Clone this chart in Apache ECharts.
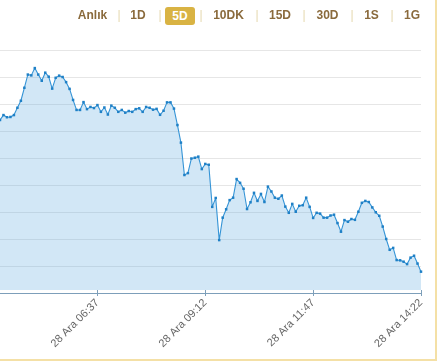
<!DOCTYPE html>
<html>
<head>
<meta charset="utf-8">
<script src="https://cdn.jsdelivr.net/npm/echarts@6/dist/echarts.min.js"></script>
<style>
  html, body { margin: 0; padding: 0; background: #fff; overflow: hidden; }
  #wrap { position: relative; width: 437px; height: 363px; overflow: hidden; }
  #chart { position: absolute; left: 0; top: 0; width: 437px; height: 363px; }
  #frame { position: absolute; left: -10px; top: -10px; width: 447px; height: 371px; box-sizing: border-box; border: 2px solid #f4e0a6; pointer-events: none; }
  .btn { position: absolute; top: 8px; height: 17px; line-height: 17px; transform: translateX(-50%); font: bold 12px "Liberation Sans", Arial, sans-serif; color: #8a6a3c; white-space: nowrap; }
  .btn.sel { background: #d9b343; color: #fff; border-radius: 3px; width: 30px; text-align: center; top: 7px; height: 18px; line-height: 18px; }
  .sep { position: absolute; top: 8px; height: 17px; line-height: 17px; transform: translateX(-50%); font: 12px "Liberation Sans", Arial, sans-serif; color: #e6d9b0; }
</style>
</head>
<body>
<div id="wrap">
  <div id="chart"></div>
  <div id="bar"></div>
  <div id="frame"></div>
</div>
<script>
// Range buttons
const rangeLabels = ['Anlık', '1D', '5D', '10DK', '15D', '30D', '1S', '1G'];
const selectedRange = '5D';

// Time categories (5-minute steps, 28 Aralık)
const dayLabel = '28 Ara';
const startMinutes = 4 * 60 + 17;   // 04:17
const stepMinutes = 5;
const shownTimes = ['06:37', '09:12', '11:47', '14:22'];

// Series values (relative scale, one grid step = 10)
const values = [
  64.1, 65.9, 65.1, 65.2, 65.9, 68.6, 71.2, 76.0, 80.9, 80.6,
  83.3, 80.9, 78.6, 81.6, 80.1, 75.7, 79.7, 80.5, 80.0, 78.1,
  75.6, 71.5, 67.8, 67.8, 70.7, 68.1, 68.9, 68.5, 69.6, 67.1,
  68.7, 66.1, 69.4, 68.6, 67.1, 67.8, 66.8, 67.4, 67.1, 68.1,
  68.4, 67.1, 68.9, 68.6, 67.9, 68.2, 66.0, 67.5, 70.6, 70.6,
  68.3, 62.2, 55.7, 43.7, 44.4, 49.8, 50.1, 50.5, 45.9, 47.8,
  47.5, 31.9, 35.2, 19.6, 27.9, 31.0, 34.4, 35.3, 42.2, 40.8,
  38.6, 31.1, 33.6, 37.1, 34.1, 36.7, 33.7, 39.4, 37.6, 35.3,
  34.9, 36.1, 32.0, 29.7, 33.0, 30.1, 32.3, 32.5, 35.3, 31.9,
  27.8, 29.7, 29.4, 27.9, 27.9, 28.7, 29.0, 25.9, 22.7, 27.0,
  26.4, 27.4, 27.1, 30.1, 33.4, 34.1, 33.7, 31.7, 29.9, 28.6,
  24.6, 20.0, 16.0, 16.7, 12.2, 12.1, 11.6, 10.7, 13.1, 13.8,
  10.9, 7.9
];

const yMin = 0, yMax = 90, yStep = 10;
const areaBase = 1.1;

function pad(n) { return (n < 10 ? '0' : '') + n; }
const times = values.map((_, i) => {
  const m = startMinutes + i * stepMinutes;
  return pad(Math.floor(m / 60)) + ':' + pad(m % 60);
});
const showFn = (idx, val) => shownTimes.indexOf(val) >= 0;

// Buttons
const btnX = [92.5, 138, 180, 228.5, 280, 327.5, 371.5, 412];
const sepX = [119, 160, 201, 257, 304, 352, 392];
const bar = document.getElementById('bar');
rangeLabels.forEach((t, i) => {
  const s = document.createElement('span');
  s.className = 'btn' + (t === selectedRange ? ' sel' : '');
  s.style.left = btnX[i] + 'px';
  s.textContent = t;
  bar.appendChild(s);
});
sepX.forEach(x => {
  const s = document.createElement('span');
  s.className = 'sep';
  s.style.left = x + 'px';
  s.textContent = '|';
  bar.appendChild(s);
});

const axisColor = '#7d9fba';
const chart = echarts.init(document.getElementById('chart'), null, { renderer: 'canvas' });
chart.setOption({
  animation: false,
  grid: { left: 0, right: 16, top: 50, bottom: 70, containLabel: false },
  xAxis: [{
    type: 'category',
    boundaryGap: false,
    data: times,
    axisLine: { lineStyle: { color: axisColor, width: 1 } },
    axisTick: { interval: (i, v) => showFn(i, v), length: 3, lineStyle: { color: axisColor } },
    axisLabel: {
      interval: (i, v) => showFn(i, v),
      rotate: 45,
      margin: 8,
      color: '#666',
      fontSize: 11,
      fontFamily: 'Liberation Sans, Arial, sans-serif',
      formatter: v => dayLabel + ' ' + v
    },
    splitLine: { show: false }
  }, {
    type: 'category',
    position: 'bottom',
    boundaryGap: false,
    data: times,
    axisLine: { show: false },
    axisTick: { interval: (i, v) => showFn(i, v), inside: true, length: 3, lineStyle: { color: axisColor } },
    axisLabel: { show: false },
    splitLine: { show: false }
  }],
  yAxis: {
    type: 'value',
    min: yMin, max: yMax, interval: yStep,
    axisLine: { show: false },
    axisTick: { show: false },
    axisLabel: { show: false },
    splitLine: { lineStyle: { color: '#e6e6e6', width: 1 } }
  },
  series: [{
    type: 'line',
    data: values,
    showSymbol: true,
    showAllSymbol: true,
    symbol: 'rect',
    symbolSize: 2.5,
    itemStyle: { color: '#1f80c6' },
    lineStyle: { color: '#3594d6', width: 1.1 },
    areaStyle: { color: 'rgba(93,168,223,0.4)', origin: areaBase },
    emphasis: { disabled: true }
  }]
});
</script>
</body>
</html>
